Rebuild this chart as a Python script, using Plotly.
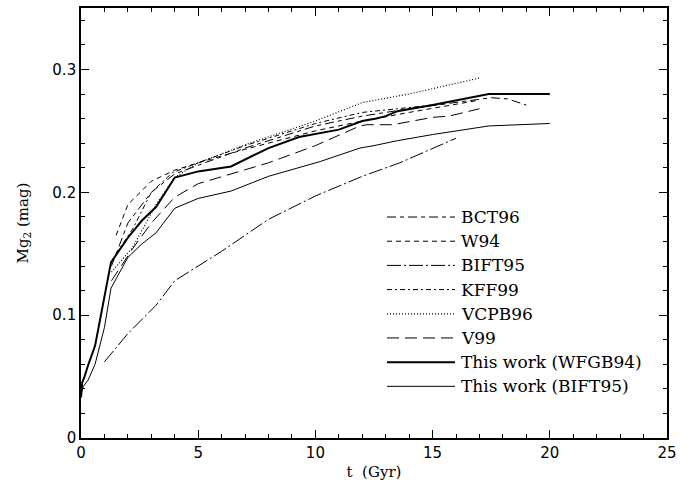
import plotly.graph_objects as go

# ---- data ----
bct96_t = [1.3, 2.0, 3.0, 4.0, 5.0, 7.0, 10.0, 12.0, 14.0, 16.0, 17.5, 18.2, 19.0]
bct96_v = [0.140, 0.175, 0.200, 0.215, 0.222, 0.236, 0.254, 0.262, 0.268, 0.273, 0.277, 0.276, 0.271]

w94_t = [1.5, 2.0, 3.0, 4.0, 5.0, 7.0, 10.0, 12.0, 14.0, 17.0]
w94_v = [0.165, 0.190, 0.209, 0.218, 0.224, 0.235, 0.250, 0.258, 0.265, 0.275]

bift95_t = [1.0, 2.0, 3.2, 4.0, 6.0, 8.0, 10.0, 12.0, 13.6, 16.0]
bift95_v = [0.062, 0.085, 0.108, 0.128, 0.152, 0.178, 0.197, 0.213, 0.224, 0.244]

kff99_t = [1.5, 2.2, 3.0, 3.9, 5.0, 7.0, 10.0, 12.0, 13.5, 15.5]
kff99_v = [0.150, 0.170, 0.200, 0.216, 0.224, 0.238, 0.256, 0.265, 0.268, 0.272]

vcpb96_t = [1.3, 2.2, 3.2, 4.0, 5.0, 7.2, 10.0, 12.0, 14.0, 17.0]
vcpb96_v = [0.135, 0.155, 0.190, 0.212, 0.224, 0.240, 0.258, 0.273, 0.280, 0.293]

v99_t = [1.3, 2.2, 3.0, 4.0, 5.0, 8.0, 10.0, 11.9, 12.2, 13.3, 15.0, 15.7, 17.0]
v99_v = [0.128, 0.154, 0.175, 0.196, 0.207, 0.224, 0.238, 0.254, 0.255, 0.255, 0.261, 0.262, 0.268]

wfgb_t = [0, 0.05, 0.15, 0.3, 0.6, 0.9, 1.28, 2.0, 2.6, 3.2, 4.0, 5.0, 6.4, 8.0, 9.3,
          11.0, 12.0, 12.6, 13.0, 13.5, 15.0, 17.4, 20.0]
wfgb_v = [0.033, 0.045, 0.050, 0.059, 0.075, 0.106, 0.143, 0.163, 0.177, 0.188, 0.212,
          0.217, 0.221, 0.236, 0.245, 0.251, 0.258, 0.260, 0.262, 0.266, 0.271, 0.280, 0.280]

twb_t = [0, 0.1, 0.3, 0.6, 1.0, 1.28, 2.0, 2.6, 3.2, 4.0, 5.0, 6.4, 8.0, 10.2, 11.9,
         12.5, 13.5, 15.0, 17.4, 20.0]
twb_v = [0.036, 0.042, 0.047, 0.060, 0.090, 0.122, 0.147, 0.158, 0.167, 0.187, 0.195,
         0.201, 0.213, 0.225, 0.236, 0.238, 0.242, 0.247, 0.254, 0.256]

names = ["BCT96", "W94", "BIFT95", "KFF99", "VCPB96", "V99",
         "This work (WFGB94)", "This work (BIFT95)"]
series_t = [bct96_t, w94_t, bift95_t, kff99_t, vcpb96_t, v99_t, wfgb_t, twb_t]
series_v = [bct96_v, w94_v, bift95_v, kff99_v, vcpb96_v, v99_v, wfgb_v, twb_v]
dashes = ["9px,4px,4px,4px", "5px,4px", "14px,3px,2px,3px", "5px,3px,2px,3px",
          "1px,2px", "12px,6px", "solid", "solid"]
widths = [1, 1, 1, 1, 1.2, 1, 2, 1]

fig = go.Figure()
for n, t, v, d, w in zip(names, series_t, series_v, dashes, widths):
    fig.add_trace(go.Scatter(x=t, y=v, mode="lines", name=n, showlegend=False,
                             line=dict(color="black", width=w, dash=d)))

# ---- manual legend ----
W, H = 694, 487
ml, mr, mt, mb = 81, 27, 6, 49
pw, ph = W - ml - mr, H - mt - mb
leg_x0, leg_x1, leg_text = 387, 455, 459
row_y0, row_dy = 216, 24.3
for i, (n, d, w) in enumerate(zip(names, dashes, widths)):
    ypx = row_y0 + i * row_dy
    yp = 1 - (ypx - mt) / ph
    fig.add_shape(type="line", xref="paper", yref="paper",
                  x0=(leg_x0 - ml) / pw, x1=(leg_x1 - ml) / pw, y0=yp, y1=yp,
                  line=dict(color="black", width=w, dash=d))
    fig.add_annotation(xref="paper", yref="paper", x=(leg_text - ml) / pw, y=yp,
                       text=n, showarrow=False, xanchor="left", yanchor="middle",
                       font=dict(family="DejaVu Serif", size=17, color="black"))

axis_common = dict(showline=True, linecolor="black", linewidth=1.6, mirror="ticks",
                   ticks="inside", ticklen=8, tickwidth=1, tickcolor="black",
                   showgrid=False, zeroline=False,
                   tickfont=dict(family="DejaVu Sans", size=15, color="black"))

fig.update_layout(
    width=W, height=H,
    margin=dict(l=ml, r=mr, t=mt, b=mb),
    paper_bgcolor="white", plot_bgcolor="white",
    xaxis=dict(range=[0, 25], tickvals=[0, 5, 10, 15, 20, 25],
               minor=dict(dtick=1, ticks="inside", ticklen=4, tickcolor="black"),
               title=dict(text="t  (Gyr)", standoff=6,
                          font=dict(family="DejaVu Serif", size=15, color="black")),
               **axis_common),
    yaxis=dict(range=[0, 0.35], tickvals=[0, 0.1, 0.2, 0.3],
               ticktext=["0", "0.1", "0.2", "0.3"],
               minor=dict(dtick=0.02, ticks="inside", ticklen=4, tickcolor="black"),
               title=dict(text="Mg<sub>2</sub> (mag)", standoff=20,
                          font=dict(family="DejaVu Serif", size=15, color="black")),
               **axis_common),
)

fig.write_html("out.html", config={"displayModeBar": False},
               post_script="document.body.style.margin='0';document.body.style.overflow='hidden';")
